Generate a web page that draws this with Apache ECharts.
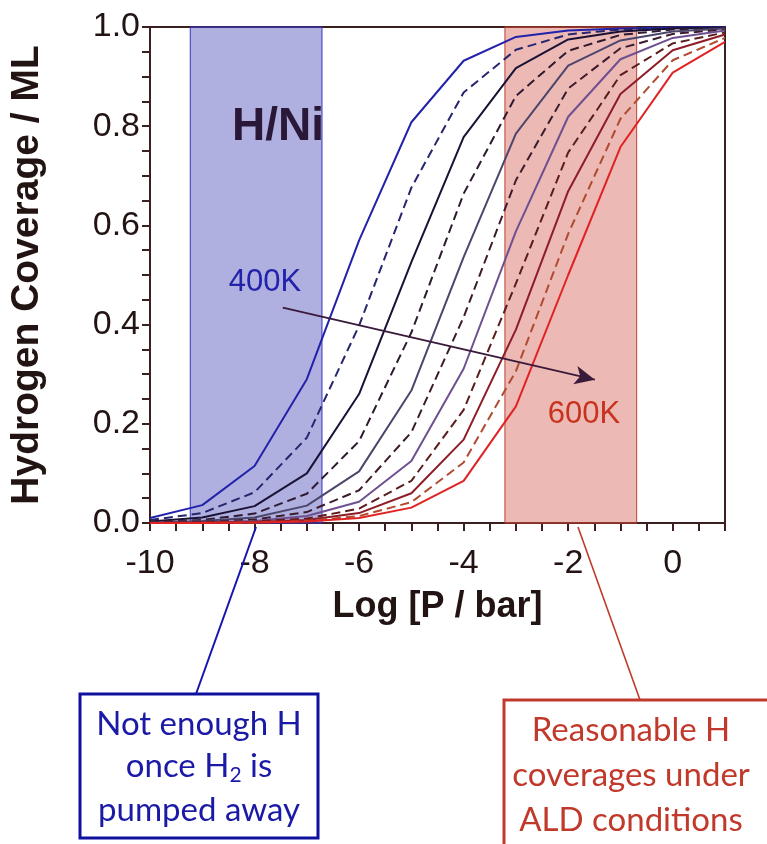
<!DOCTYPE html>
<html>
<head>
<meta charset="utf-8">
<script src="https://cdn.jsdelivr.net/npm/echarts@6/dist/echarts.min.js"></script>
<style>
  html, body { margin: 0; padding: 0; background: #ffffff; }
  #chart { width: 767px; height: 844px; }
</style>
</head>
<body>
<div id="chart"></div>
<script>
// ---- data ----
const logP = [-10, -9, -8, -7, -6, -5, -4, -3, -2, -1, 0, 1];
const temps = ['400K', '420K', '440K', '460K', '480K', '500K', '520K', '540K', '560K', '580K', '600K'];
const cov400 = [0.010, 0.036, 0.115, 0.290, 0.570, 0.808, 0.932, 0.980, 0.993, 0.997, 0.999, 1.000];
const cov420 = [0.006, 0.020, 0.062, 0.172, 0.398, 0.676, 0.868, 0.954, 0.985, 0.995, 0.998, 0.999];
const cov440 = [0.003, 0.011, 0.034, 0.100, 0.260, 0.526, 0.778, 0.917, 0.975, 0.991, 0.997, 0.999];
const cov460 = [0.002, 0.006, 0.019, 0.059, 0.165, 0.384, 0.664, 0.861, 0.952, 0.984, 0.995, 0.998];
const cov480 = [0.001, 0.004, 0.011, 0.035, 0.104, 0.267, 0.536, 0.785, 0.922, 0.973, 0.991, 0.997];
const cov500 = [0.001, 0.002, 0.007, 0.022, 0.066, 0.183, 0.415, 0.691, 0.876, 0.957, 0.986, 0.995];
const cov520 = [0.000, 0.001, 0.004, 0.014, 0.043, 0.125, 0.311, 0.588, 0.819, 0.935, 0.978, 0.993];
const cov540 = [0.000, 0.001, 0.003, 0.009, 0.029, 0.085, 0.228, 0.483, 0.747, 0.903, 0.967, 0.989];
const cov560 = [0.000, 0.001, 0.002, 0.006, 0.020, 0.060, 0.168, 0.390, 0.669, 0.865, 0.953, 0.985];
const cov580 = [0.000, 0.000, 0.001, 0.004, 0.014, 0.042, 0.122, 0.306, 0.583, 0.815, 0.933, 0.978];
const cov600 = [0.000, 0.000, 0.001, 0.003, 0.010, 0.031, 0.085, 0.235, 0.500, 0.758, 0.908, 0.970];
const coverages = [cov400, cov420, cov440, cov460, cov480, cov500, cov520, cov540, cov560, cov580, cov600];
const xTickLabels = ['-10', '-8', '-6', '-4', '-2', '0'];
const yTickLabels = ['0.0', '0.2', '0.4', '0.6', '0.8', '1.0'];
const lowRegion = [-9.23, -6.71];     // "Not enough H" band (log P)
const aldRegion = [-3.21, -0.69];     // ALD conditions band (log P)
const arrowFrom = [-7.46, 0.434];
const arrowTo = [-1.49, 0.289];

// ---- styles ----
const lineColors = ['#2222aa', '#26266e', '#1a1236', '#2e1a30', '#4c466c', '#3c1c2c',
                    '#6e5090', '#5a1c1c', '#8e1c28', '#b04a30', '#e02222'];
const axisColor = '#3b2020';
const textColor = '#231414';

const series = coverages.map((arr, i) => ({
  name: temps[i],
  type: 'line',
  z: 3,
  symbol: 'none',
  silent: true,
  data: logP.map((x, j) => [x, arr[j]]),
  lineStyle: {
    color: lineColors[i],
    width: 2,
    type: i % 2 === 1 ? [9, 5] : 'solid'
  }
}));

series.unshift({
  type: 'line',
  z: 1,
  data: [],
  silent: true,
  markArea: {
    silent: true,
    data: [
      [{ xAxis: lowRegion[0], yAxis: 0, itemStyle: { color: 'rgba(60,60,180,0.41)', borderColor: '#3434c0', borderWidth: 1 } },
       { xAxis: lowRegion[1], yAxis: 1 }],
      [{ xAxis: aldRegion[0], yAxis: 0, itemStyle: { color: 'rgba(205,70,60,0.38)', borderColor: '#c04030', borderWidth: 1 } },
       { xAxis: aldRegion[1], yAxis: 1 }]
    ]
  }
});

series.push({
  type: 'line',
  z: 4,
  data: [],
  silent: true,
  markLine: {
    silent: true,
    symbol: ['none', 'arrow'],
    symbolSize: [14, 20],
    label: { show: false },
    lineStyle: { color: '#3a1a3a', width: 1.8, type: 'solid' },
    data: [[{ coord: arrowFrom }, { coord: arrowTo }]]
  }
});

const option = {
  animation: false,
  backgroundColor: '#ffffff',
  grid: {
    left: 150, right: 42, top: 27, bottom: 321,
    show: true, borderColor: axisColor, borderWidth: 2, backgroundColor: 'transparent'
  },
  xAxis: {
    type: 'value',
    min: -10, max: 1, interval: 2,
    name: 'Log [P / bar]',
    nameLocation: 'middle',
    nameGap: 66,
    nameTextStyle: { fontFamily: 'Liberation Sans', fontWeight: 'bold', fontSize: 36, color: textColor },
    axisLine: { show: true, onZero: false, lineStyle: { color: axisColor, width: 2 } },
    axisTick: { show: true, length: 8, lineStyle: { color: axisColor, width: 2 } },
    minorTick: { show: true, splitNumber: 4, length: 8, lineStyle: { color: axisColor, width: 2 } },
    splitLine: { show: false },
    axisLabel: {
      margin: 24, fontFamily: 'Liberation Sans', fontSize: 34, color: textColor,
      showMaxLabel: false,
      formatter: v => xTickLabels.includes(String(v)) ? String(v) : ''
    }
  },
  yAxis: {
    type: 'value',
    min: 0, max: 1, interval: 0.2,
    name: 'Hydrogen Coverage / ML',
    nameLocation: 'middle',
    nameGap: 103,
    nameTextStyle: { fontFamily: 'Liberation Sans', fontWeight: 'bold', fontSize: 39, color: textColor },
    axisLine: { show: true, onZero: false, lineStyle: { color: axisColor, width: 2 } },
    axisTick: { show: true, length: 8, lineStyle: { color: axisColor, width: 2 } },
    minorTick: { show: true, splitNumber: 4, length: 8, lineStyle: { color: axisColor, width: 2 } },
    splitLine: { show: false },
    axisLabel: {
      margin: 10, fontFamily: 'Liberation Sans', fontSize: 34, color: textColor,
      formatter: v => yTickLabels[Math.round(v * 5)]
    }
  },
  series: series,
  graphic: [
    { type: 'text', z: 10, left: 232, top: 104,
      style: { text: 'H/Ni', font: 'bold 46px "Liberation Sans"', fill: '#2a1838' } },
    { type: 'text', z: 10, x: 265, y: 282,
      style: { text: '400K', font: '31px "Liberation Sans"', fill: '#2222aa', align: 'center', verticalAlign: 'middle' } },
    { type: 'text', z: 10, x: 584, y: 414,
      style: { text: '600K', font: '31px "Liberation Sans"', fill: '#c8321e', align: 'center', verticalAlign: 'middle' } },
    // connectors
    { type: 'line', z: 10, shape: { x1: 256, y1: 527, x2: 196, y2: 694 }, style: { stroke: '#1515b0', lineWidth: 2 } },
    { type: 'line', z: 10, shape: { x1: 578, y1: 527, x2: 640, y2: 700 }, style: { stroke: '#c03a2a', lineWidth: 1.6 } },
    // boxes
    { type: 'rect', z: 10, shape: { x: 80, y: 694, width: 238, height: 144 },
      style: { fill: '#ffffff', stroke: '#1010a0', lineWidth: 3 } },
    { type: 'rect', z: 10, shape: { x: 504, y: 700, width: 270, height: 160 },
      style: { fill: '#ffffff', stroke: '#c0392b', lineWidth: 3 } },
    { type: 'text', z: 11, x: 199, y: 724,
      style: { text: 'Not enough H', font: '33px Lato', fill: '#1a1aa6', align: 'center', verticalAlign: 'middle' } },
    { type: 'text', z: 11, x: 199, y: 766,
      style: {
        text: '{a|once H}{s|2}{a| is}',
        align: 'center', verticalAlign: 'middle',
        rich: {
          a: { fontFamily: 'Lato', fontSize: 33, fill: '#1a1aa6', lineHeight: 40 },
          s: { fontFamily: 'Lato', fontSize: 21, fill: '#1a1aa6', lineHeight: 21, verticalAlign: 'bottom', padding: [10, 0, 0, 0] }
        }
      } },
    { type: 'text', z: 11, x: 199, y: 810,
      style: { text: 'pumped away', font: '33px Lato', fill: '#1a1aa6', align: 'center', verticalAlign: 'middle' } },
    { type: 'text', z: 11, x: 631, y: 730,
      style: { text: 'Reasonable H', font: '33px Lato', fill: '#c0392b', align: 'center', verticalAlign: 'middle' } },
    { type: 'text', z: 11, x: 631, y: 775,
      style: { text: 'coverages under', font: '33px Lato', fill: '#c0392b', align: 'center', verticalAlign: 'middle' } },
    { type: 'text', z: 11, x: 631, y: 820,
      style: { text: 'ALD conditions', font: '33px Lato', fill: '#c0392b', align: 'center', verticalAlign: 'middle' } }
  ]
};

const chart = echarts.init(document.getElementById('chart'), null, { renderer: 'canvas' });
chart.setOption(option);
</script>
</body>
</html>
